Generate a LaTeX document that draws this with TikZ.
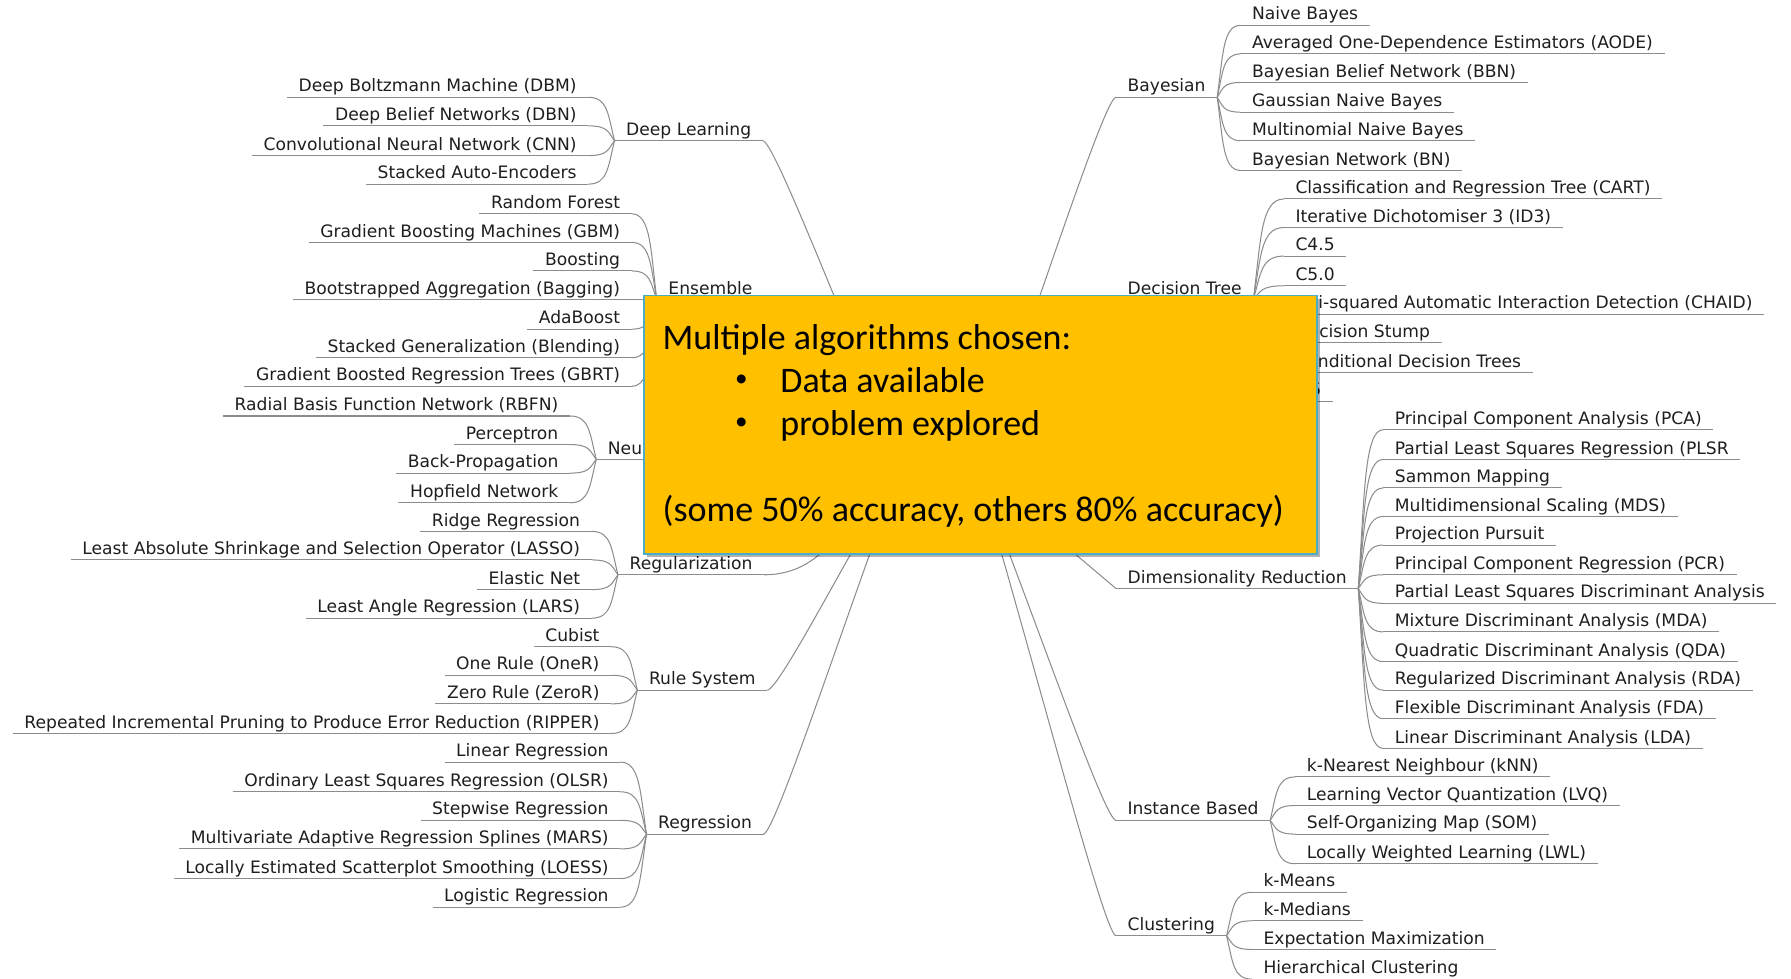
\documentclass[tikz,border=0pt]{standalone}
\usepackage{fontspec}
\setmainfont{DejaVu Sans}
\newfontfamily\calloutfont{Carlito}
\usetikzlibrary{calc,shadows}

\definecolor{linegray}{HTML}{8C8C8C}
\definecolor{inkgray}{HTML}{1E1E1E}
\definecolor{notefill}{HTML}{FFC000}
\definecolor{noteedge}{HTML}{4BACC6}

\tikzset{
  branch/.style={draw=linegray, line width=0.9pt},
  tag/.style={font=\fontsize{15}{18}\selectfont, text=inkgray, inner xsep=10pt,
    inner ysep=0pt, text height=11pt, text depth=4.5pt, yshift=-5.5pt},
  lleaf/.style={tag, anchor=base east, xshift=10pt},
  rnode/.style={tag, anchor=base west, xshift=-10pt},
  notebox/.style={anchor=north west, minimum width=589pt, minimum height=226pt,
    inner sep=0pt, draw=noteedge, line width=1.5pt, fill=notefill,
    drop shadow={shadow xshift=3pt, shadow yshift=-3pt, opacity=0.3, fill=black}},
  notetext/.style={anchor=base west, inner sep=0pt, text=black,
    font=\calloutfont\fontsize{31.5}{38}\selectfont},
  notedot/.style={anchor=center, inner sep=0pt, text=black,
    font=\calloutfont\fontsize{22}{24}\selectfont},
}

% curved link from a leaf's underline to its category's junction point
\newcommand\conn[2]{\draw[branch] let \p1=(#1), \p2=(#2) in
  (#1) .. controls (\x1+0.75*\x2-0.75*\x1, \y1)
       and (\x2-0.25*\x2+0.25*\x1, \y2+0.6*\y1-0.6*\y2) .. (#2);}
% long link from the root to a category; #3 bends its end towards the horizontal
\newcommand\trunk[3]{\draw[branch] (#1) .. controls ($(#1)!0.4!(#2)$)
  and ($(#2)+(#3,0)$) .. (#2);}
% leaves hanging to the left of a category
\newcommand\leftgroup[3]{%
  \foreach \lbl/\yy [count=\i] in {#3} {
    \node[lleaf] (#1-\i) at (#2,\yy) {\lbl};
    \draw[branch] (#1-\i.south west) -- (#1-\i.south east);
    \conn{#1-\i.south east}{#1.south west}
  }}
% leaves hanging to the right of a category
\newcommand\rightgroup[3]{%
  \foreach \lbl/\yy [count=\i] in {#3} {
    \node[rnode] (#1-\i) at (#2,\yy) {\lbl};
    \draw[branch] (#1-\i.south west) -- (#1-\i.south east);
    \conn{#1-\i.south west}{#1.south east}
  }}

\begin{document}
\begin{tikzpicture}[x=1pt, y=-1pt]
\path[use as bounding box] (0,0) rectangle (1568,857);

\coordinate (rootL) at (791,404);
\coordinate (rootR) at (856,413);

% categories on the left
\node[rnode] (dl)  at (548,113) {Deep Learning};
\node[rnode] (ens) at (585,252) {Ensemble};
\node[rnode] (nn)  at (532,392) {Neural Networks};
\node[rnode] (reg) at (551,493) {Regularization};
\node[rnode] (rs)  at (568,594) {Rule System};
\node[rnode] (rgr) at (576,720) {Regression};

% categories on the right
\node[rnode] (bay) at (987,75)  {Bayesian};
\node[rnode] (dt)  at (987,252) {Decision Tree};
\node[rnode] (drd) at (987,505) {Dimensionality Reduction};
\node[rnode] (ib)  at (987,708) {Instance Based};
\node[rnode] (cl)  at (987,809) {Clustering};

\foreach \c in {dl,ens,nn,reg,rs,rgr,bay,dt,drd,ib,cl}
  {\draw[branch] (\c.south west) -- (\c.south east);}

\trunk{rootL}{dl.south east}{10}
\trunk{rootL}{ens.south east}{20}
\trunk{rootL}{nn.south east}{20}
\trunk{rootL}{reg.south east}{60}
\trunk{rootL}{rs.south east}{10}
\trunk{rootL}{rgr.south east}{10}
\trunk{rootR}{bay.south west}{-10}
\trunk{rootR}{dt.south west}{-20}
\trunk{rootR}{drd.south west}{0}
\trunk{rootR}{ib.south west}{-10}
\trunk{rootR}{cl.south west}{-10}

\leftgroup{dl}{505}{Deep Boltzmann Machine (DBM)/75, Deep Belief Networks (DBN)/100,
  Convolutional Neural Network (CNN)/126, Stacked Auto-Encoders/151}
\leftgroup{ens}{543}{Random Forest/177, Gradient Boosting Machines (GBM)/202,
  Boosting/227, Bootstrapped Aggregation (Bagging)/252, AdaBoost/278,
  Stacked Generalization (Blending)/303, Gradient Boosted Regression Trees (GBRT)/328}
\leftgroup{nn}{489}{Radial Basis Function Network (RBFN)/354, Perceptron/379,
  Back-Propagation/404, Hopfield Network/430}
\leftgroup{reg}{508}{Ridge Regression/455,
  Least Absolute Shrinkage and Selection Operator (LASSO)/480, Elastic Net/506,
  Least Angle Regression (LARS)/531}
\leftgroup{rs}{525}{Cubist/556, One Rule (OneR)/581, Zero Rule (ZeroR)/606,
  Repeated Incremental Pruning to Produce Error Reduction (RIPPER)/632}
\leftgroup{rgr}{533}{Linear Regression/657, Ordinary Least Squares Regression (OLSR)/683,
  Stepwise Regression/708, Multivariate Adaptive Regression Splines (MARS)/733,
  Locally Estimated Scatterplot Smoothing (LOESS)/759, Logistic Regression/784}

\rightgroup{bay}{1096}{Naive Bayes/12, Averaged One-Dependence Estimators (AODE)/37,
  Bayesian Belief Network (BBN)/62, Gaussian Naive Bayes/88,
  Multinomial Naive Bayes/113, Bayesian Network (BN)/139}
\rightgroup{dt}{1134}{Classification and Regression Tree (CART)/164,
  Iterative Dichotomiser 3 (ID3)/189, C4.5/214, C5.0/240,
  Chi-squared Automatic Interaction Detection (CHAID)/265, Decision Stump/290,
  Conditional Decision Trees/316, M5/341}
\rightgroup{drd}{1221}{Principal Component Analysis (PCA)/366,
  Partial Least Squares Regression (PLSR/392, Sammon Mapping/417,
  Multidimensional Scaling (MDS)/442, Projection Pursuit/467,
  Principal Component Regression (PCR)/493,
  Partial Least Squares Discriminant Analysis/518,
  Mixture Discriminant Analysis (MDA)/543, Quadratic Discriminant Analysis (QDA)/569,
  Regularized Discriminant Analysis (RDA)/594, Flexible Discriminant Analysis (FDA)/619,
  Linear Discriminant Analysis (LDA)/645}
\rightgroup{ib}{1144}{k-Nearest Neighbour (kNN)/670, Learning Vector Quantization (LVQ)/695,
  Self-Organizing Map (SOM)/720, Locally Weighted Learning (LWL)/746}
\rightgroup{cl}{1106}{k-Means/771, k-Medians/796, Expectation Maximization/821,
  Hierarchical Clustering/847}

% the note laid over the middle of the map
\node[notebox] (note) at (563,258) {};
\node[notetext] (head)  at (580,306)   {Multiple algorithms chosen:};
\node[notedot]  (dot1)  at (649,333)   {•};
\node[notetext] (item1) at (683,343.5) {Data available};
\node[notedot]  (dot2)  at (649,371)   {•};
\node[notetext] (item2) at (683,381)   {problem explored};
\node[notetext] (foot)  at (580,456.5) {(some 50\% accuracy, others 80\% accuracy)};
\end{tikzpicture}
\end{document}
